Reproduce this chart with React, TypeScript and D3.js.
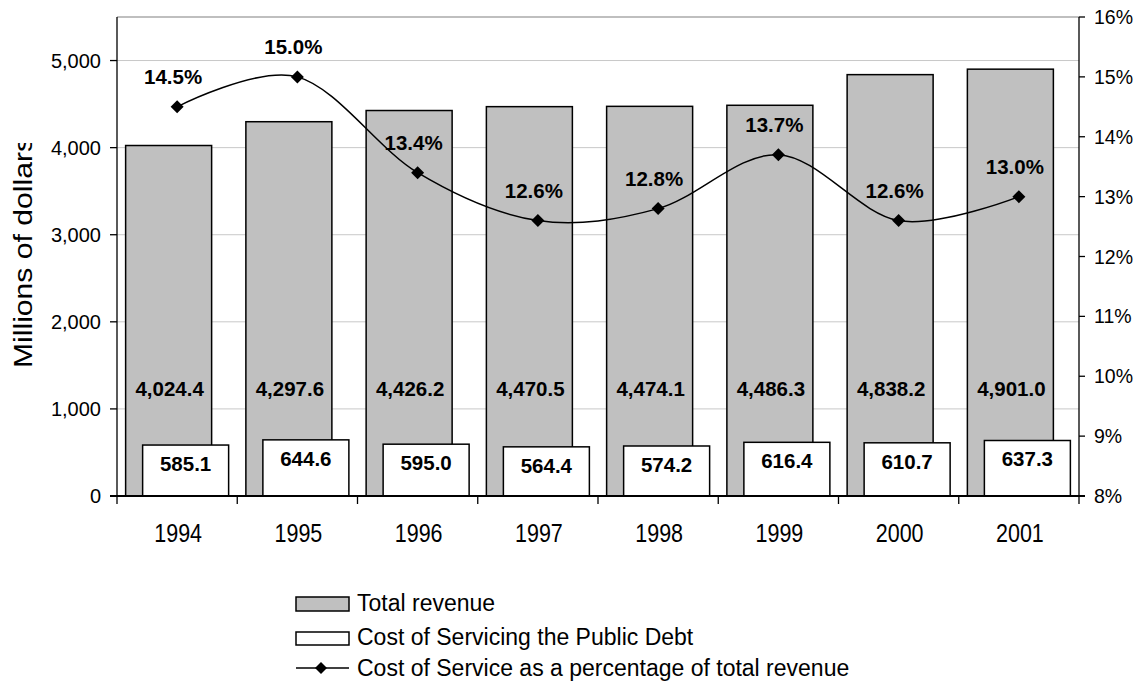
import React from "react";
import * as d3 from "d3";

const years = ["1994", "1995", "1996", "1997", "1998", "1999", "2000", "2001"];
const totalRevenue = [4024.4, 4297.6, 4426.2, 4470.5, 4474.1, 4486.3, 4838.2, 4901.0];
const debtCost = [585.1, 644.6, 595.0, 564.4, 574.2, 616.4, 610.7, 637.3];
const pctOfRevenue = [14.5, 15.0, 13.4, 12.6, 12.8, 13.7, 12.6, 13.0];
const leftTicks = [0, 1000, 2000, 3000, 4000, 5000];
const rightTicks = [8, 9, 10, 11, 12, 13, 14, 15, 16];
const legendLabels = [
  "Total revenue",
  "Cost of Servicing the Public Debt",
  "Cost of Service as a percentage of total revenue",
];

const W = 1141;
const H = 681;
const L = 117, R = 1079, T = 17, B = 496;
const FONT = "Arial, 'Liberation Sans', Helvetica, sans-serif";

export default function App() {
  const x = d3.scaleBand<string>().domain(years).range([L, R]).padding(0);
  const y = d3.scaleLinear().domain([0, 5500]).range([B, T]);
  const yp = d3.scaleLinear().domain([8, 16]).range([B, T]);
  const bw = x.bandwidth();
  const barW = 86;
  const shift = 17;
  const pad = (bw - (barW + shift)) / 2;
  const grayLabelY = y(1150);

  const cx = (i: number) => (x(years[i]) as number) + bw / 2;
  const line = d3
    .line<number>()
    .x((_, i) => cx(i))
    .y((d) => yp(d))
    .curve(d3.curveCatmullRom.alpha(0));

  const diamond = (px: number, py: number, r = 6.5) =>
    `M${px},${py - r}L${px + r},${py}L${px},${py + r}L${px - r},${py}Z`;

  return (
    <svg width={W} height={H} style={{ position: "absolute", left: 0, top: 0, background: "#fff" }} fontFamily={FONT}>
      <defs>
        <clipPath id="ytclip">
          <rect x={0} y={143} width={60} height={400} />
        </clipPath>
      </defs>
      {/* gridlines */}
      {leftTicks.filter((t) => t > 0).map((t) => (
        <line key={t} x1={L} x2={R} y1={y(t)} y2={y(t)} stroke="#c8c8c8" strokeWidth={1} />
      ))}
      {/* plot top border */}
      <line x1={L} x2={R} y1={T} y2={T} stroke="#808080" strokeWidth={1.2} />
      {/* bars */}
      {years.map((yr, i) => {
        const x0 = (x(yr) as number) + pad;
        return (
          <g key={yr}>
            <rect x={x0} y={y(totalRevenue[i])} width={barW} height={B - y(totalRevenue[i])} fill="#c0c0c0" stroke="#000" strokeWidth={1.5} />
            <rect x={x0 + shift} y={y(debtCost[i])} width={barW} height={B - y(debtCost[i])} fill="#fff" stroke="#000" strokeWidth={1.5} />
            <text x={x0 + barW / 2 + 1} y={grayLabelY} textAnchor="middle" fontSize={20.5} fontWeight="bold" fill="#000">
              {d3.format(",.1f")(totalRevenue[i])}
            </text>
            <text x={x0 + shift + barW / 2} y={y(debtCost[i]) + 26} textAnchor="middle" fontSize={20.5} fontWeight="bold" fill="#000">
              {d3.format(".1f")(debtCost[i])}
            </text>
          </g>
        );
      })}
      {/* axes */}
      <line x1={L} x2={L} y1={T} y2={B} stroke="#000" strokeWidth={1.3} />
      <line x1={R} x2={R} y1={T} y2={B} stroke="#000" strokeWidth={1.3} />
      <line x1={L - 7} x2={R + 6} y1={B} y2={B} stroke="#000" strokeWidth={2} />
      {leftTicks.map((t) => (
        <g key={t}>
          <line x1={L - 7} x2={L} y1={y(t)} y2={y(t)} stroke="#000" strokeWidth={1.3} />
          <text x={L - 16} y={y(t) + 7} textAnchor="end" fontSize={20} fill="#000">
            {d3.format(",")(t)}
          </text>
        </g>
      ))}
      {rightTicks.map((t) => (
        <g key={t}>
          <line x1={R} x2={R + 6} y1={yp(t)} y2={yp(t)} stroke="#000" strokeWidth={1.3} />
          <text x={R + 15} y={yp(t) + 7} textAnchor="start" fontSize={19.5} fill="#000">
            {t}%
          </text>
        </g>
      ))}
      {years.map((yr, i) => (
        <g key={yr}>
          <line x1={x(yr) as number} x2={x(yr) as number} y1={B} y2={B + 8} stroke="#000" strokeWidth={1.3} />
          <text transform={`translate(${cx(i) + 1}, 541.5) scale(1, 1.22)`} textAnchor="middle" fontSize={21.5} fill="#000">
            {yr}
          </text>
        </g>
      ))}
      <line x1={R} x2={R} y1={B} y2={B + 8} stroke="#000" strokeWidth={1.3} />
      {/* percent line */}
      <path d={line(pctOfRevenue) || ""} fill="none" stroke="#000" strokeWidth={1.5} />
      {pctOfRevenue.map((p, i) => (
        <g key={i}>
          <path d={diamond(cx(i), yp(p))} fill="#000" />
          <text x={cx(i) - 4} y={yp(p) - 23} textAnchor="middle" fontSize={20.5} fontWeight="bold" fill="#000">
            {d3.format(".1f")(p)}%
          </text>
        </g>
      ))}
      {/* y title */}
      <g clipPath="url(#ytclip)">
        <text
          transform={`translate(32, ${368 - 231 / 2}) rotate(-90)`}
          textAnchor="middle"
          fontSize={26}
          textLength={231}
          lengthAdjust="spacingAndGlyphs"
          fill="#000"
        >
          Millions of dollars
        </text>
      </g>
      {/* legend */}
      <rect x={296} y={597} width={53} height={14} fill="#c0c0c0" stroke="#000" strokeWidth={1.5} />
      <text x={357} y={611} fontSize={23} fill="#000">{legendLabels[0]}</text>
      <rect x={296} y={632} width={53} height={13} fill="#fff" stroke="#000" strokeWidth={1.5} />
      <text x={357} y={645} fontSize={23} fill="#000">{legendLabels[1]}</text>
      <line x1={296} x2={349} y1={668} y2={668} stroke="#000" strokeWidth={1.5} />
      <path d={diamond(321, 668, 6)} fill="#000" />
      <text x={357} y={676} fontSize={23} fill="#000">{legendLabels[2]}</text>
    </svg>
  );
}
